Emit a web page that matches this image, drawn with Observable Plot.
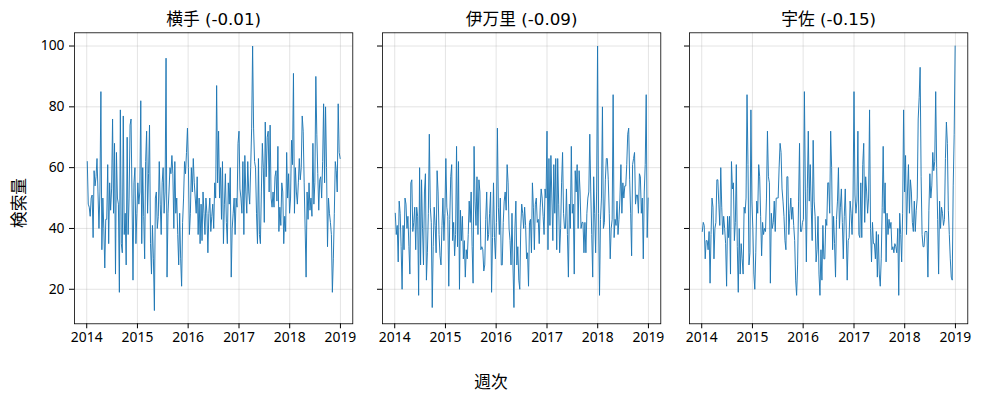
<!DOCTYPE html>
<html><head><meta charset="utf-8">
<script src="https://cdn.jsdelivr.net/npm/d3@7"></script>
<script src="https://cdn.jsdelivr.net/npm/@observablehq/plot@0.6"></script>
<style>
body{margin:0;background:#fff;}
#fig{position:relative;width:982px;height:401px;background:#fff;font-family:"Noto Sans","Noto Sans CJK JP",sans-serif;}
#fig svg{position:absolute;top:0;}
.lab{position:absolute;font-size:16.7px;font-family:"Noto Sans CJK JP",sans-serif;color:#000;line-height:1;white-space:nowrap;}
</style></head><body><div id="fig"></div>
<script>
// --- data ---
const places = ["横手", "伊万里", "宇佐"];
const corrs = [-0.01, -0.09, -0.15];
const startDate = "2014-01-05"; // first weekly observation
const yearTicks = [2014, 2015, 2016, 2017, 2018, 2019];
const yTicks = [20, 40, 60, 80, 100];
const xLabel = "週次";
const yLabel = "検索量";

const yokote = [
 62,48,47,44,50,51,37,59,54,57,63,52,40,52,85,33,50,40,27,43,43,61,35,55,46,53,76,45,68,25,65,50,48,19,79,35,32,77,38,45,28,70,38,50,74,76,50,23,55,60,35,45,
 55,48,52,82,35,60,44,30,62,72,45,58,74,35,25,41,30,13,50,52,40,44,62,48,38,55,60,45,52,96,24,45,52,60,58,64,58,40,62,45,50,38,28,45,30,21,42,50,62,58,65,73,
 60,38,45,60,52,63,55,50,45,57,38,50,35,48,36,52,45,38,50,45,32,45,50,39,44,48,40,55,50,87,55,72,50,60,43,62,35,48,58,42,35,55,48,60,24,40,45,50,38,50,47,68,
 72,53,50,45,62,38,64,52,45,62,52,48,60,73,100,73,62,60,45,35,63,38,35,52,68,60,42,75,57,70,72,52,74,50,47,52,47,57,59,49,67,39,47,41,55,52,35,44,39,65,50,58,45,
 50,69,61,91,45,60,52,48,55,63,56,60,77,72,55,40,24,52,43,55,46,50,44,68,48,55,90,71,58,46,56,57,50,62,81,55,80,60,34,50,45,42,38,19,30,45,62,59,52,81,65,63
];
const imari = [
 45,38,41,29,49,45,34,20,41,33,50,48,40,44,34,25,55,56,39,42,47,33,47,44,18,60,28,56,40,28,52,58,23,32,45,71,47,42,14,34,47,41,32,59,52,38,31,28,41,50,36,45,
 63,47,44,21,43,57,61,36,42,31,38,67,34,62,20,46,36,44,30,36,24,33,30,38,49,42,52,34,22,67,49,41,57,38,56,52,33,34,33,26,28,43,52,36,38,45,52,19,37,55,37,30,
 42,73,47,38,50,28,28,42,49,52,46,61,55,40,36,28,45,28,14,40,49,28,34,23,20,40,48,45,40,47,41,30,32,21,42,43,32,55,47,33,48,50,42,43,35,47,53,50,44,38,53,50,
 72,33,63,41,64,50,36,61,45,63,33,63,48,32,40,55,65,45,40,40,53,38,24,48,40,67,45,48,25,59,52,61,40,59,52,40,42,42,32,42,32,45,50,52,71,52,38,24,57,45,32,52,100,
 45,18,43,50,80,40,42,56,63,63,56,45,30,40,43,84,37,43,41,49,38,43,50,61,45,55,50,54,54,61,71,73,56,45,31,61,63,65,48,51,51,45,58,57,45,50,30,52,61,84,37,50
];
const usa = [
 39,42,41,30,36,36,33,39,22,38,50,47,30,40,42,56,56,48,41,60,47,38,44,40,35,21,44,37,44,25,62,53,55,36,42,61,34,19,40,25,35,30,25,47,45,50,84,61,28,32,79,49,
 40,25,20,32,49,45,61,57,44,31,42,38,40,39,50,72,57,55,22,45,40,42,49,39,50,50,50,60,68,65,53,49,44,36,33,57,57,38,45,50,43,47,41,36,23,18,28,49,68,39,39,42,
 43,85,52,29,53,72,49,61,47,36,69,49,44,29,33,44,25,18,33,23,41,30,30,43,41,55,55,45,72,60,33,44,35,24,43,49,60,40,47,53,42,30,44,53,40,23,36,37,49,45,38,50,
 85,51,45,49,72,38,37,55,37,61,68,42,57,52,45,50,79,40,29,42,35,35,30,39,24,38,25,21,30,47,67,45,55,29,45,38,43,40,42,33,34,32,35,34,32,40,18,45,38,29,45,79,52,
 64,38,52,61,45,56,52,42,39,49,39,46,50,76,83,93,57,38,34,34,39,39,39,24,46,58,50,54,65,59,62,85,60,43,25,49,40,47,45,41,43,63,75,68,46,38,30,24,23,54,71,100
];
const seriesList = [yokote, imari, usa];

// --- build ---
const t0 = new Date(startDate + "T00:00:00Z");
const toRows = (vals) => vals.map((v, i) => ({date: new Date(+t0 + i * 7 * 864e5), value: v}));
const tickDates = yearTicks.map(y => new Date(Date.UTC(y, 0, 1)));
const xDomain = [new Date(Date.UTC(2013, 9, 5)), new Date(Date.UTC(2019, 2, 31))];
const yDomain = [8.65, 104.35];

const fig = document.getElementById("fig");
const frameLefts = [74, 382.3, 689.3];
const frameW = 278.3;
const fontFam = '"Noto Sans","Noto Sans CJK JP",sans-serif';

seriesList.forEach((vals, i) => {
  const ml = i === 0 ? 74 : 20;
  const mr = 20;
  const data = toRows(vals);
  const svg = Plot.plot({
    width: ml + frameW + mr,
    height: 353,
    marginTop: 32.3, marginBottom: 29.7, marginLeft: ml, marginRight: mr,
    style: {background: "transparent", fontFamily: fontFam, fontSize: "13.9px", color: "#000", overflow: "visible"},
    x: {type: "utc", domain: xDomain, ticks: tickDates, tickFormat: d3.utcFormat("%Y"), tickSize: 5, tickPadding: 3.5, label: null},
    y: {domain: yDomain, ticks: yTicks, tickSize: 5, tickPadding: 5, label: null,
        tickFormat: i === 0 ? (d => String(d)) : (() => "")},
    marks: [
      Plot.gridX(tickDates, {stroke: "#b0b0b0", strokeOpacity: 0.35, strokeWidth: 1}),
      Plot.gridY(yTicks, {stroke: "#b0b0b0", strokeOpacity: 0.35, strokeWidth: 1}),
      Plot.line(data, {x: "date", y: "value", stroke: "#1f77b4", strokeWidth: 0.95}),
      Plot.frame({stroke: "#000", strokeWidth: 0.8}),
      Plot.text([`${places[i]} (${corrs[i].toFixed(2)})`], {frameAnchor: "top", lineAnchor: "bottom", dy: -8, fontSize: 16.7, fill: "#000", fontFamily: '"DejaVu Sans","Noto Sans CJK JP",sans-serif'})
    ]
  });
  svg.style.left = (frameLefts[i] - ml) + "px";
  fig.appendChild(svg);
});

const xl = document.createElement("div");
xl.className = "lab"; xl.textContent = xLabel;
xl.style.left = "491px"; xl.style.top = "381px"; xl.style.transform = "translate(-50%,-50%)";
fig.appendChild(xl);
const yl = document.createElement("div");
yl.className = "lab"; yl.textContent = yLabel;
yl.style.left = "18px"; yl.style.top = "203px"; yl.style.transform = "translate(-50%,-50%) rotate(-90deg)";
fig.appendChild(yl);
</script></body></html>
